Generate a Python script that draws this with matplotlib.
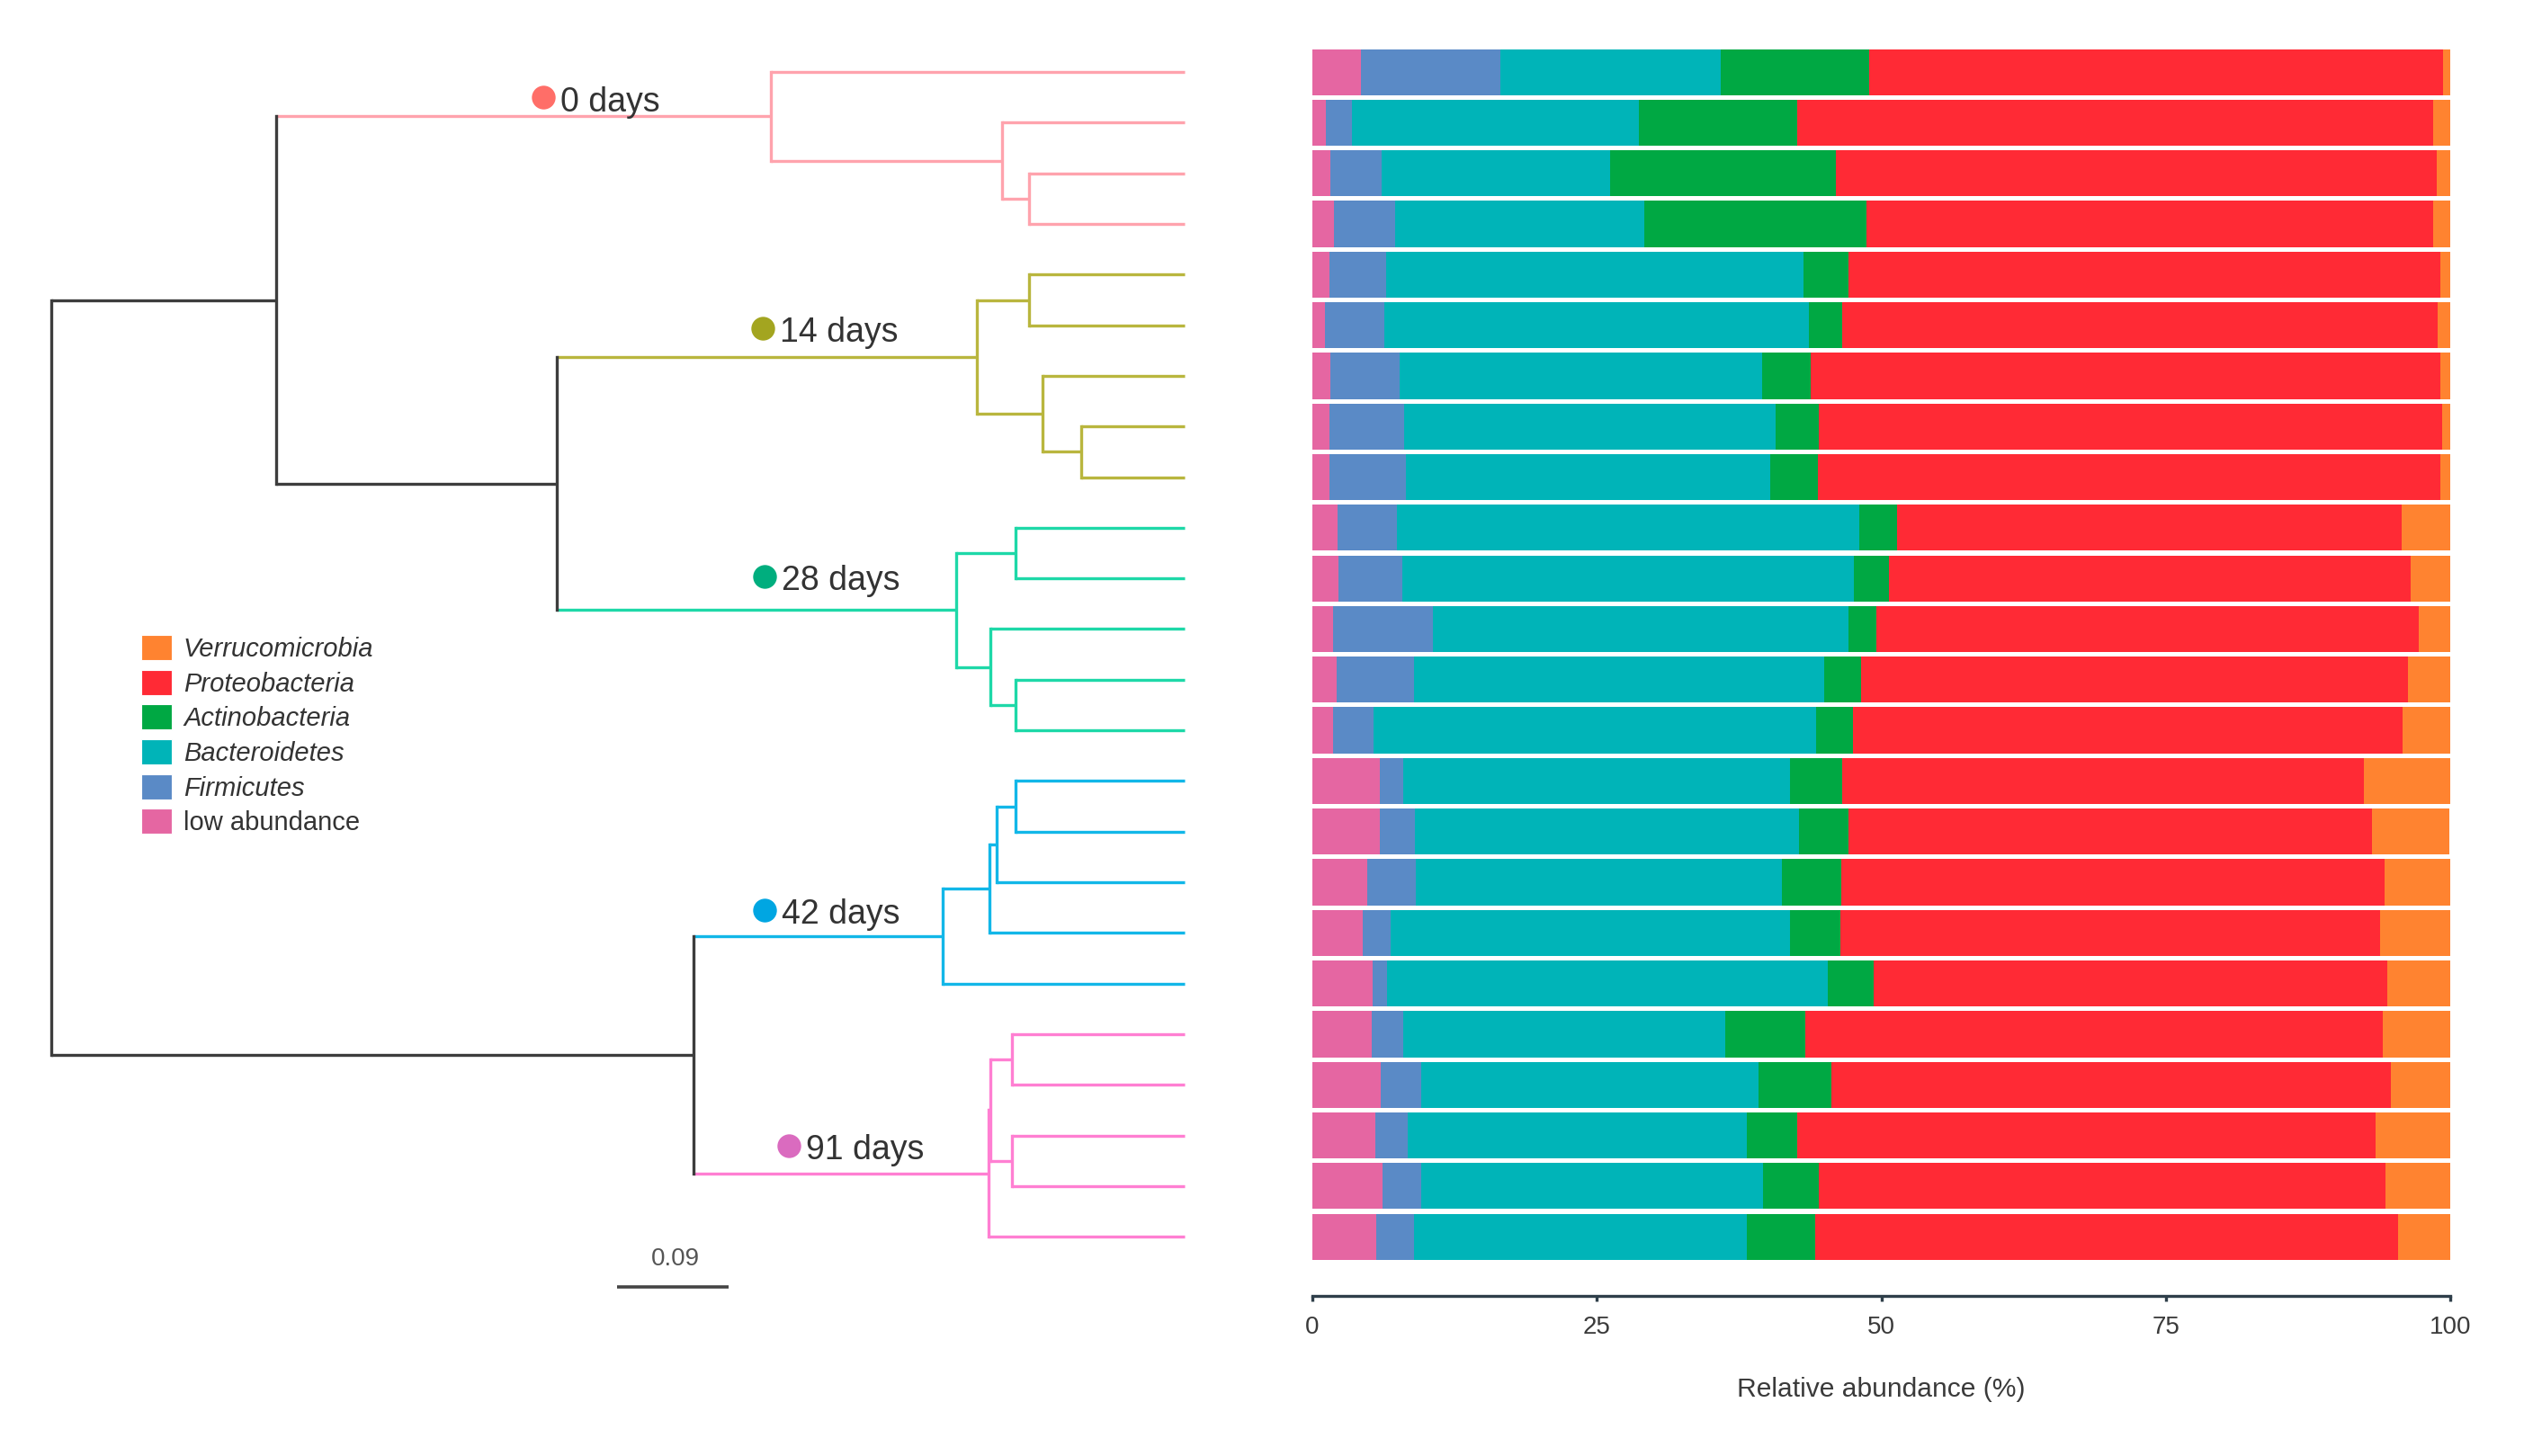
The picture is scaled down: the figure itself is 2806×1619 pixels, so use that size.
import matplotlib.pyplot as plt
from matplotlib.patches import Patch

plt.rcParams['font.family'] = ['Liberation Sans', 'DejaVu Sans']

# phyla, in stacking order (left -> right)
phyla = ['low abundance', 'Firmicutes', 'Bacteroidetes',
         'Actinobacteria', 'Proteobacteria', 'Verrucomicrobia']
phyla_colors = ['#E566A2', '#5A8AC6', '#00B4B8', '#00A843', '#FF2A35', '#FF8330']

# relative abundance (%) per sample, top row first
low_abundance = [4.3, 1.2, 1.6, 1.9, 1.5, 1.1, 1.6, 1.5, 1.5,
                 2.2, 2.3, 1.8, 2.1, 1.8,
                 5.9, 5.9, 4.8, 4.4, 5.3,
                 5.2, 6.0, 5.5, 6.2, 5.6]
firmicutes = [12.2, 2.3, 4.5, 5.4, 5.0, 5.2, 6.1, 6.6, 6.7,
              5.2, 5.6, 8.8, 6.8, 3.6,
              2.1, 3.1, 4.3, 2.5, 1.3,
              2.8, 3.6, 2.9, 3.4, 3.3]
bacteroidetes = [19.4, 25.2, 20.1, 21.9, 36.7, 37.3, 31.8, 32.6, 32.0,
                 40.7, 39.7, 36.5, 36.1, 38.9,
                 34.0, 33.8, 32.2, 35.1, 38.7,
                 28.3, 29.6, 29.8, 30.0, 29.3]
actinobacteria = [13.0, 13.9, 19.8, 19.5, 3.9, 3.0, 4.3, 3.8, 4.2,
                  3.3, 3.1, 2.5, 3.2, 3.2,
                  4.6, 4.3, 5.2, 4.4, 4.0,
                  7.0, 6.4, 4.4, 4.9, 6.0]
proteobacteria = [50.5, 55.9, 52.8, 49.8, 52.0, 52.3, 55.3, 54.8, 54.7,
                  44.3, 45.8, 47.6, 48.1, 48.3,
                  45.8, 46.0, 47.7, 47.4, 45.2,
                  50.8, 49.2, 50.8, 49.8, 51.2]
verrucomicrobia = [0.7, 1.5, 1.2, 1.5, 0.9, 1.1, 0.9, 0.8, 0.9,
                   4.4, 3.6, 2.8, 3.7, 4.2,
                   7.6, 6.8, 5.9, 6.3, 5.5,
                   5.9, 5.2, 6.6, 5.7, 4.6]
abundance = [low_abundance, firmicutes, bacteroidetes,
             actinobacteria, proteobacteria, verrucomicrobia]

# sampling day of each sample (same order as rows)
sample_days = [0] * 4 + [14] * 5 + [28] * 5 + [42] * 5 + [91] * 5
day_labels = {0: '0 days', 14: '14 days', 28: '28 days', 42: '42 days', 91: '91 days'}
line_colors = {0: '#FFA3AD', 14: '#B9B63E', 28: '#1ED8A8', 42: '#12B7E8', 91: '#FF7FD2'}
dot_colors = {0: '#FF6E68', 14: '#A3A520', 28: '#00AE7E', 42: '#00A6E2', 91: '#DA6BBF'}
backbone = '#3d3d3d'

# tree: (node depth, [children]); a tip is the row index of its sample
tip_depth = 0.912
tree = (0.0, [
    (0.181, [
        (0.579, [0, (0.765, [1, (0.787, [2, 3])])]),
        (0.407, [
            (0.745, [(0.787, [4, 5]), (0.798, [6, (0.829, [7, 8])])]),
            (0.728, [(0.776, [9, 10]), (0.756, [11, (0.776, [12, 13])])]),
        ]),
    ]),
    (0.517, [
        (0.717, [(0.755, [(0.761, [(0.776, [14, 15]), 16]), 17]), 18]),
        (0.754, [(0.756, [(0.773, [19, 20]), (0.773, [21, 22])]), 23]),
    ]),
])

# clade label spots (tree units, row units)
label_pos = {0: (0.3955, 0.50), 14: (0.5726, 5.06), 28: (0.574, 9.96),
             42: (0.574, 16.55), 91: (0.5935, 21.2)}

W, H = 2806, 1619
fig = plt.figure(figsize=(W / 200, H / 200), dpi=200)
ax_bottom = 1 - 1441 / H
ax_height = (1441 - 52) / H
ylim = (24.17, -0.5)

ax_tree = fig.add_axes([0, ax_bottom, 1459 / W, ax_height])
ax_bar = fig.add_axes([1459 / W, ax_bottom, 1265 / W, ax_height])

# ---- tree ----
lw = 1.2


def draw(node, parent_depth):
    if isinstance(node, int):
        y, d, tips = node, tip_depth, [node]
    else:
        d, kids = node
        ys, tips = [], []
        for k in kids:
            yk, tk = draw(k, d)
            ys.append(yk)
            tips += tk
        y = (min(ys) + max(ys)) / 2
    groups = {sample_days[t] for t in tips}
    col = line_colors[groups.pop()] if len(groups) == 1 else backbone
    if not isinstance(node, int):
        ax_tree.plot([d, d], [min(ys), max(ys)], color=col, lw=lw,
                     solid_capstyle='projecting', clip_on=False)
    if parent_depth is not None:
        ax_tree.plot([parent_depth, d], [y, y], color=col, lw=lw,
                     solid_capstyle='butt', clip_on=False)
    return y, tips


draw(tree, None)

for day, (lx, ly) in label_pos.items():
    ax_tree.plot(lx, ly, 'o', ms=9.5, color=dot_colors[day], mec='none', clip_on=False)
    ax_tree.text(lx + 0.014, ly + 0.27, day_labels[day], fontsize=13.5,
                 color='#333333', ha='left', va='baseline')

# scale bar
ax_tree.plot([0.455, 0.455 + 0.09], [24.0, 24.0], color='#444444', lw=1.3,
             solid_capstyle='butt', clip_on=False)
ax_tree.text(0.455 + 0.047, 23.45, '0.09', fontsize=10, color='#555555',
             ha='center', va='center')

ax_tree.set_xlim(-0.0415, 1.0149)
ax_tree.set_ylim(*ylim)
ax_tree.axis('off')

# ---- stacked bars ----
rows = list(range(len(sample_days)))
left = [0.0] * len(rows)
for name, vals, c in zip(phyla, abundance, phyla_colors):
    ax_bar.barh(rows, vals, left=left, height=0.91, color=c, edgecolor='none')
    left = [a + b for a, b in zip(left, vals)]

ax_bar.set_xlim(0, 100)
ax_bar.set_ylim(*ylim)
ax_bar.set_yticks([])
for s in ['left', 'top', 'right']:
    ax_bar.spines[s].set_visible(False)
ax_bar.spines['bottom'].set_color('#2f3f4a')
ax_bar.spines['bottom'].set_linewidth(1.2)
ax_bar.set_xticks([0, 25, 50, 75, 100])
ax_bar.tick_params(axis='x', length=2, width=1.2, color='#2f3f4a', pad=6,
                   labelsize=10, labelcolor='#3a3a3a')
ax_bar.set_xlabel('Relative abundance (%)', fontsize=10.8, color='#3a3a3a', labelpad=15)

# ---- legend ----
handles = [Patch(facecolor=c, edgecolor='white', linewidth=0.4)
           for c in phyla_colors[::-1]]
leg = fig.legend(handles, phyla[::-1], loc='upper left',
                 bbox_to_anchor=(157 / W, 1 - 706 / H), frameon=False,
                 borderpad=0, borderaxespad=0, handlelength=1.16, handleheight=1.1,
                 handletextpad=0.45, labelspacing=0.3, fontsize=10.5)
for t in leg.get_texts():
    t.set_color('#333333')
    if t.get_text() != 'low abundance':
        t.set_style('italic')

fig.savefig('out.png', dpi=200)
